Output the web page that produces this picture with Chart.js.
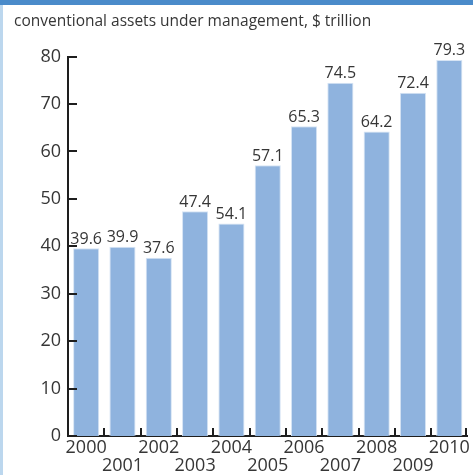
<!DOCTYPE html>
<html>
<head>
<meta charset="utf-8">
<script src="https://cdn.jsdelivr.net/npm/chart.js@4/dist/chart.umd.min.js"></script>
<style>
    body { margin: 0; background: #ffffff; }
    #wrap { position: relative; width: 473px; height: 475px; }
    #topBand { position: absolute; left: 0; top: 0; width: 473px; height: 5px; background: #4a8bca; }
    #leftEdge { position: absolute; left: 0; top: 5px; width: 3px; height: 470px; background: #bcd7ee; }
</style>
</head>
<body>
<div id="wrap">
    <canvas id="assetsChart" width="473" height="475"></canvas>
    <div id="topBand"></div>
    <div id="leftEdge"></div>
</div>
<script>
var years = ["2000", "2001", "2002", "2003", "2004", "2005", "2006", "2007", "2008", "2009", "2010"];
// bar heights as drawn in the picture (2004 bar is drawn lower than its label says)
var barValues = [39.6, 39.9, 37.6, 47.4, 44.8, 57.1, 65.3, 74.5, 64.2, 72.4, 79.3];
var valueLabels = ["39.6", "39.9", "37.6", "47.4", "54.1", "57.1", "65.3", "74.5", "64.2", "72.4", "79.3"];
var yTicks = [0, 10, 20, 30, 40, 50, 60, 70, 80];

document.addEventListener("DOMContentLoaded", function () {
    var textColor = "#363636";
    var axisColor = "#1e1e1e";

    // even years on first row, odd years on second row
    var xLabels = years.map(function (y, i) {
        return i % 2 === 0 ? [y, ""] : ["", y];
    });

    // short tick marks pointing into the plot, plus value labels above bars
    var axisDecor = {
        id: "axisDecor",
        afterDatasetsDraw: function (chart) {
            var ctx = chart.ctx;
            var x = chart.scales.x;
            var y = chart.scales.y;
            ctx.save();
            ctx.strokeStyle = axisColor;
            ctx.lineWidth = 2;
            ctx.beginPath();
            for (var i = 1; i <= years.length; i++) {
                var px = Math.round(x.getPixelForValue(i - 0.5));
                if (i === years.length) px = Math.round(x.right) - 1;
                ctx.moveTo(px, y.bottom);
                ctx.lineTo(px, y.bottom - 8);
            }
            yTicks.forEach(function (v) {
                var py = Math.round(y.getPixelForValue(v));
                ctx.moveTo(x.left, py);
                ctx.lineTo(x.left + 9, py);
            });
            ctx.stroke();

            ctx.fillStyle = textColor;
            ctx.font = "16px 'Open Sans'";
            ctx.textAlign = "center";
            ctx.textBaseline = "bottom";
            chart.getDatasetMeta(0).data.forEach(function (bar, i) {
                ctx.fillText(valueLabels[i], bar.x, bar.y - 1);
            });
            ctx.restore();
        }
    };

    var canvas = document.getElementById("assetsChart");
    var ctx = canvas.getContext("2d");
    canvas.chart = new Chart(ctx, {
        type: "bar",
        data: {
            labels: xLabels,
            datasets: [{
                data: barValues,
                backgroundColor: "#8fb3de",
                borderColor: "#d6e4f4",
                borderWidth: 1,
                barPercentage: 0.72,
                categoryPercentage: 1.0,
            }],
        },
        options: {
            responsive: false,
            animation: false,
            layout: { padding: { left: 14, right: 2, top: 0, bottom: 0 } },
            plugins: {
                legend: { display: false },
                tooltip: { enabled: false },
                title: {
                    display: true,
                    text: "conventional assets under management, $ trillion",
                    align: "start",
                    color: textColor,
                    font: { family: "'Open Sans'", size: 15.5, weight: "normal" },
                    padding: { top: 12, bottom: 26 },
                },
            },
            scales: {
                x: {
                    offset: true,
                    grid: { display: false, drawTicks: false },
                    border: { display: true, color: axisColor, width: 2 },
                    ticks: {
                        color: textColor,
                        font: { family: "'Open Sans'", size: 18, lineHeight: 1.0 },
                        padding: 3,
                        maxRotation: 0,
                        autoSkip: false,
                    },
                    afterFit: function (scale) { scale.height = 39; },
                },
                y: {
                    min: 0,
                    max: 80,
                    grid: { display: false, drawTicks: false },
                    border: { display: true, color: axisColor, width: 2 },
                    ticks: {
                        stepSize: 10,
                        color: textColor,
                        font: { family: "'Open Sans'", size: 18 },
                        padding: 7,
                    },
                    afterFit: function (scale) { scale.width = 54; },
                },
            },
        },
        plugins: [axisDecor],
    });
});
</script>
</body>
</html>
